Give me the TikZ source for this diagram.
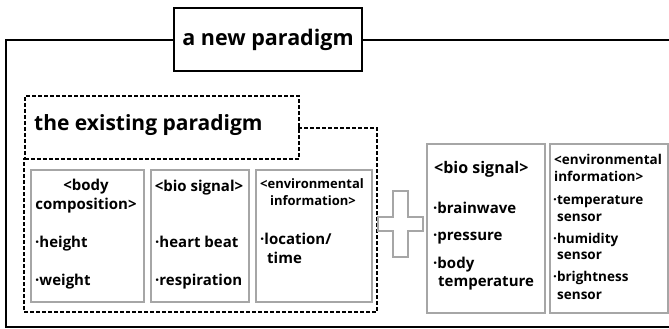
\documentclass[tikz,border=0pt]{standalone}
\usepackage{fontspec}
\setmainfont{Open Sans}
\usetikzlibrary{positioning}
\definecolor{boxgray}{HTML}{A6A6A6}
\tikzset{
	line width=1pt,
	frame/.style={draw, line width=1.8pt},
	titlebox/.style={draw, fill=white, line width=1.8pt, inner sep=0pt},
	oldframe/.style={draw, line width=1.6pt, dash pattern=on 4pt off 2pt},
	graybox/.style={draw=boxgray, line width=2.4pt, fill=white, inner sep=0pt, anchor=north west},
	bigtxt/.style={font=\fontsize{21}{25}\selectfont\bfseries},
	head/.style={anchor=mid, inner sep=0pt, font=\fontsize{15}{18}\selectfont\bfseries},
	smallhead/.style={anchor=mid, inner sep=0pt, font=\fontsize{13}{15}\selectfont\bfseries},
	item/.style={anchor=mid west, inner sep=0pt, font=\fontsize{15}{18}\selectfont\bfseries},
	smallitem/.style={anchor=mid west, inner sep=0pt, font=\fontsize{13.5}{16}\selectfont\bfseries}
}

\begin{document}
\begin{tikzpicture}[x=1pt, y=-1pt]
	\clip (0,0) rectangle (669,329);
	% outer frame, open to the right and bottom
	\draw[frame] (680,40) -- (6,40) -- (6,327) -- (680,327);
	\node (newtitle) [titlebox, minimum width=188pt, minimum height=63pt, bigtxt, font=\fontsize{21.5}{25}\selectfont\bfseries] at (268,39.5) {a new paradigm};

	% the existing paradigm
	\draw[oldframe] (298,128) -- (377,128) -- (377,312) -- (24,312) -- (24,158);
	\node (oldtitle) [oldframe, inner sep=0pt, anchor=north west,
		minimum width=274pt, minimum height=63pt] at (24,95) {};
	\node (oldlabel) [bigtxt, anchor=mid west, inner sep=0pt] at (34,128) {the existing paradigm};

	\node (bodybox) [graybox, minimum width=113pt, minimum height=132pt] at (30,169) {};
	\node (biobox) [graybox, minimum width=98pt, minimum height=132pt] at (150,169) {};
	\node (envbox) [graybox, minimum width=116pt, minimum height=132pt] at (255,169) {};

	\node (bodyh1) [head] at (86,188) {<body};
	\node (bodyh2) [head] at (86,207) {composition>};
	\node (height) [item] at (35,245) {·height};
	\node (weight) [item] at (35,283) {·weight};

	\node (bioh) [head] at (199,189) {<bio signal>};
	\node (heart) [item] at (155,245) {·heart beat};
	\node (resp) [item] at (155,283) {·respiration};

	\node (envh1) [smallhead] at (312,186) {<environmental};
	\node (envh2) [smallhead] at (313,203) {information>};
	\node (loc) [item] at (260,242) {·location/};
	\node (time) [item] at (267,261) {time};

	% plus sign
	\draw[boxgray, line width=2.4pt, fill=white] (393,191) -- (408,191) -- (408,217) -- (423,217) -- (423,231)
		-- (408,231) -- (408,257) -- (393,257) -- (393,231) -- (378,231) -- (378,217) -- (393,217) -- cycle;

	% new elements
	\node (newbiobox) [graybox, minimum width=118pt, minimum height=169pt] at (426,143) {};
	\node (newenvbox) [graybox, minimum width=118pt, minimum height=169pt] at (549,143) {};

	\node (newbioh) [item, font=\fontsize{16}{19}\selectfont\bfseries] at (434,171) {<bio signal>};
	\node (brain) [item] at (433,211) {·brainwave};
	\node (press) [item] at (433,238) {·pressure};
	\node (body) [item] at (433,266) {·body};
	\node (temp) [item] at (438,284) {temperature};

	\node (newenvh1) [smallitem] at (554,162) {<environmental};
	\node (newenvh2) [smallitem] at (554,179) {information>};
	\node (tsens1) [smallitem] at (553,202) {·temperature};
	\node (tsens2) [smallitem] at (557,219) {sensor};
	\node (hsens1) [smallitem] at (553,241) {·humidity};
	\node (hsens2) [smallitem] at (557,257) {sensor};
	\node (bsens1) [smallitem] at (553,279) {·brightness};
	\node (bsens2) [smallitem] at (557,297) {sensor};
\end{tikzpicture}
\end{document}
